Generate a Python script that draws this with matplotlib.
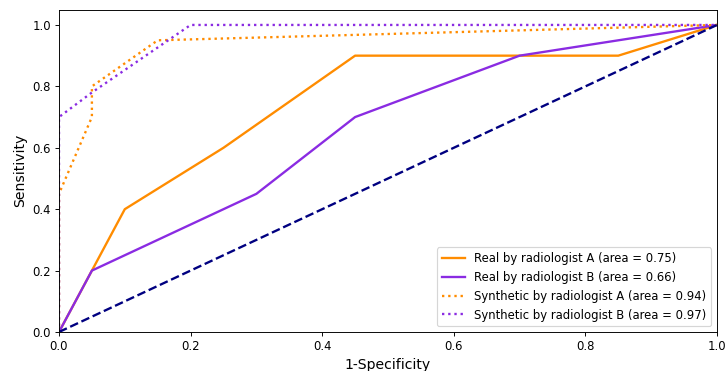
import matplotlib
matplotlib.use('Agg')
import matplotlib.pyplot as plt

# ROC points
real_a_fpr = [0.0, 0.05, 0.1, 0.25, 0.45, 0.85, 1.0]
real_a_tpr = [0.0, 0.2, 0.4, 0.6, 0.9, 0.9, 1.0]

real_b_fpr = [0.0, 0.05, 0.3, 0.45, 0.7, 1.0]
real_b_tpr = [0.0, 0.2, 0.45, 0.7, 0.9, 1.0]

syn_a_fpr = [0.0, 0.0, 0.05, 0.05, 0.15, 1.0]
syn_a_tpr = [0.0, 0.45, 0.7, 0.8, 0.95, 1.0]

syn_b_fpr = [0.0, 0.0, 0.05, 0.2, 1.0]
syn_b_tpr = [0.0, 0.7, 0.78, 1.0, 1.0]

labels = ['Real by radiologist A (area = 0.75)',
          'Real by radiologist B (area = 0.66)',
          'Synthetic by radiologist A (area = 0.94)',
          'Synthetic by radiologist B (area = 0.97)']

DPI = 84
fig = plt.figure(figsize=(726 / DPI, 371 / DPI), dpi=DPI)
ax = fig.add_axes([59 / 726, 39 / 371, 658 / 726, 322.4 / 371])

ax.plot(real_a_fpr, real_a_tpr, color='darkorange', lw=2, label=labels[0])
ax.plot(real_b_fpr, real_b_tpr, color='blueviolet', lw=2, label=labels[1])
ax.plot(syn_a_fpr, syn_a_tpr, color='darkorange', lw=2, linestyle=':', label=labels[2])
ax.plot(syn_b_fpr, syn_b_tpr, color='blueviolet', lw=2, linestyle=':', label=labels[3])
ax.plot([0, 1], [0, 1], color='navy', lw=2, linestyle='--')

ax.set_xlim([0.0, 1.0])
ax.set_ylim([0.0, 1.05])
ax.set_xlabel('1-Specificity', fontsize=12)
ax.set_ylabel('Sensitivity', fontsize=12)
ax.legend(loc='lower right', fontsize=10)

fig.savefig('out.png', dpi=DPI)
